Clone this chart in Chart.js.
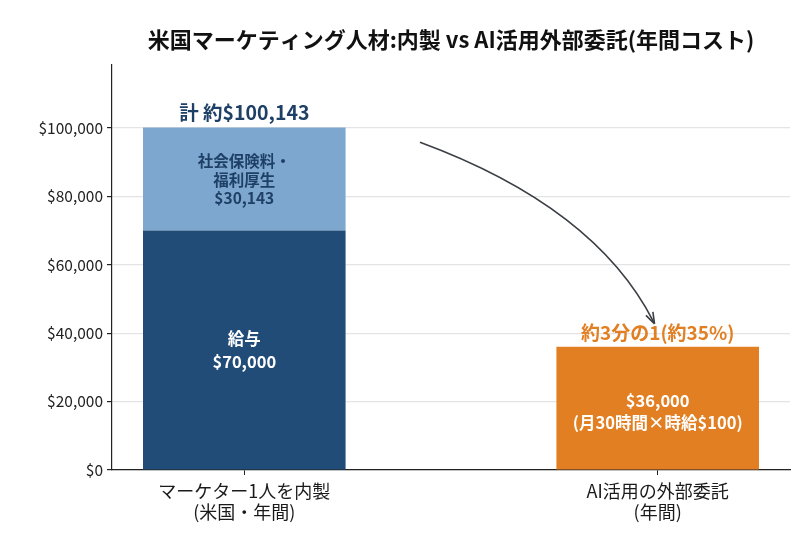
<!DOCTYPE html>
<html>
<head>
<meta charset="utf-8">
<script src="https://cdn.jsdelivr.net/npm/chart.js@4"></script>
<style>
  html, body { margin: 0; padding: 0; background: #fff; }
  #wrap { width: 800px; height: 533px; }
</style>
</head>
<body>
<div id="wrap"><canvas id="costChart" width="800" height="533"></canvas></div>
<script>
// Data
const categories = [
    ['マーケター1人を内製', '(米国・年間)'],
    ['AI活用の外部委託', '(年間)']
];
const salary = [70000, null];
const benefits = [30143, null];
const outsourcing = [null, 36000];
const yTicks = [0, 20000, 40000, 60000, 80000, 100000];
const yMax = 118400;

const chartTitle = '米国マーケティング人材:内製 vs AI活用外部委託(年間コスト)';
const salaryLabel = ['給与', '$70,000'];
const benefitsLabel = ['社会保険料・', '福利厚生', '$30,143'];
const outsourceLabel = ['$36,000', '(月30時間×時給$100)'];
const totalLabel = '計 約$100,143';
const ratioLabel = '約3分の1(約35%)';
// arrow in data units: from near the in-house total to the outsourced bar
const arrowFrom = { x: 0.425, y: 95800 };
const arrowTo = { x: 0.99, y: 43300 };

const FONT = '"Noto Sans CJK JP", "Noto Sans", sans-serif';
const DARK_BLUE = '#214c77';
const LIGHT_BLUE = '#7ea7cf';
const ORANGE = '#e27f22';
const LABEL_BLUE = '#1f4066';

function toPoints(arr) {
    return arr.map((v, i) => ({ x: i, y: v })).filter(p => p.y !== null);
}

function drawLines(ctx, lines, x, cy, lineH) {
    const start = cy - (lines.length - 1) * lineH / 2;
    lines.forEach((t, i) => ctx.fillText(t, x, start + i * lineH));
}

const labelPlugin = {
    id: 'barLabels',
    afterDatasetsDraw(chart) {
        const ctx = chart.ctx;
        const xs = chart.scales.x, ys = chart.scales.y;
        const area = chart.chartArea;
        const inHouseX = xs.getPixelForValue(0);
        const outX = xs.getPixelForValue(1);
        ctx.save();
        ctx.textAlign = 'center';
        ctx.textBaseline = 'middle';

        // title, centred over the plot area
        ctx.fillStyle = '#111111';
        ctx.font = 'bold 22px ' + FONT;
        ctx.fillText(chartTitle, (area.left + area.right) / 2, 40);

        // salary
        ctx.fillStyle = '#ffffff';
        ctx.font = 'bold 16.5px ' + FONT;
        drawLines(ctx, salaryLabel, inHouseX, ys.getPixelForValue(salary[0] / 2), 23);

        // benefits
        ctx.fillStyle = LABEL_BLUE;
        ctx.font = 'bold 15.5px ' + FONT;
        drawLines(ctx, benefitsLabel, inHouseX, ys.getPixelForValue(salary[0] + benefits[0] / 2) + 1, 18.5);

        // total
        ctx.font = 'bold 19.5px ' + FONT;
        ctx.fillText(totalLabel, inHouseX, ys.getPixelForValue(salary[0] + benefits[0]) - 15);

        // outsourcing
        ctx.fillStyle = '#ffffff';
        ctx.font = 'bold 16.5px ' + FONT;
        drawLines(ctx, outsourceLabel, outX, ys.getPixelForValue(outsourcing[1] / 2) + 3, 22);

        ctx.fillStyle = ORANGE;
        ctx.font = 'bold 19px ' + FONT;
        ctx.fillText(ratioLabel, outX, ys.getPixelForValue(outsourcing[1]) - 14);

        // curved arrow
        const x0 = xs.getPixelForValue(arrowFrom.x), y0 = ys.getPixelForValue(arrowFrom.y);
        const x1 = xs.getPixelForValue(arrowTo.x), y1 = ys.getPixelForValue(arrowTo.y);
        const cx = x0 + (x1 - x0) * 0.75, cy = y0 + (y1 - y0) * 0.36;
        ctx.strokeStyle = '#3b3f45';
        ctx.lineWidth = 1.6;
        ctx.beginPath();
        ctx.moveTo(x0, y0);
        ctx.quadraticCurveTo(cx, cy, x1, y1);
        ctx.stroke();
        const ang = Math.atan2(y1 - cy, x1 - cx);
        const hl = 10;
        ctx.beginPath();
        ctx.moveTo(x1 + 1, y1 + 2);
        ctx.lineTo(x1 - hl * Math.cos(ang - 0.4), y1 - hl * Math.sin(ang - 0.4));
        ctx.moveTo(x1 + 1, y1 + 2);
        ctx.lineTo(x1 - hl * Math.cos(ang + 0.4), y1 - hl * Math.sin(ang + 0.4));
        ctx.stroke();
        ctx.restore();
    }
};

new Chart(document.getElementById('costChart'), {
    type: 'bar',
    data: {
        datasets: [
            { label: '給与', data: toPoints(salary), backgroundColor: DARK_BLUE },
            { label: '社会保険料・福利厚生', data: toPoints(benefits), backgroundColor: LIGHT_BLUE },
            { label: 'AI活用の外部委託', data: toPoints(outsourcing), backgroundColor: ORANGE }
        ]
    },
    options: {
        responsive: false,
        animation: false,
        events: [],
        datasets: {
            bar: { categoryPercentage: 1, barPercentage: 0.49, borderWidth: 0 }
        },
        layout: { padding: { left: 0, right: 10, top: 65, bottom: 0 } },
        plugins: {
            legend: { display: false },
            tooltip: { enabled: false },
            title: { display: false }
        },
        scales: {
            x: {
                type: 'linear',
                stacked: true,
                offset: false,
                min: -0.32,
                max: 1.32,
                afterBuildTicks: scale => { scale.ticks = categories.map((c, i) => ({ value: i })); },
                afterFit: scale => { scale.height = 63; },
                ticks: {
                    callback: value => categories[value],
                    color: '#1a1a1a',
                    font: { family: FONT, size: 18, lineHeight: 1.17 },
                    padding: 6,
                    maxRotation: 0
                },
                grid: { offset: false, drawOnChartArea: false, drawTicks: true, tickLength: 5, tickColor: '#222222' },
                border: { color: '#222222', width: 1.2 }
            },
            y: {
                stacked: true,
                min: 0,
                max: yMax,
                afterBuildTicks: scale => { scale.ticks = yTicks.map(v => ({ value: v })); },
                afterFit: scale => { scale.width = 112; },
                ticks: {
                    callback: v => '$' + v.toLocaleString('en-US'),
                    color: '#222222',
                    font: { family: FONT, size: 15.5 },
                    padding: 4
                },
                grid: { color: '#e4e4e4', lineWidth: 1.2, tickLength: 5, tickColor: '#222222' },
                border: { color: '#222222', width: 1.2 }
            }
        }
    },
    plugins: [labelPlugin]
});
</script>
</body>
</html>
